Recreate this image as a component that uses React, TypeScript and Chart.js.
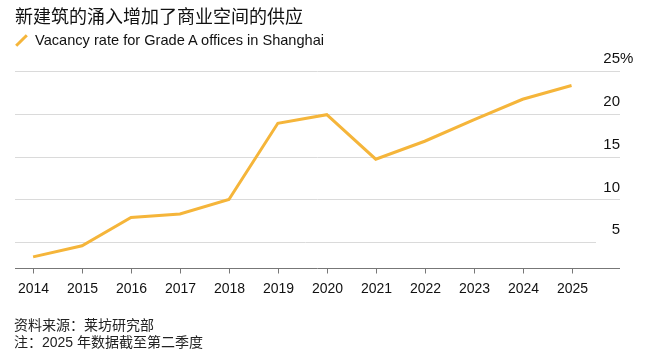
import React, { useEffect, useRef } from "react";
import { Chart, registerables } from "chart.js";

Chart.register(...registerables);

const title = "新建筑的涌入增加了商业空间的供应";
const seriesLabel = "Vacancy rate for Grade A offices in Shanghai";
const years = ["2014", "2015", "2016", "2017", "2018", "2019", "2020", "2021", "2022", "2023", "2024", "2025"];
const vacancy = [3.3, 4.6, 7.9, 8.3, 10.0, 18.9, 19.9, 14.7, 16.8, 19.3, 21.7, 23.3];
const yTicks = [5, 10, 15, 20, 25];
const yMin = 2;
const yMax = 25;
const sourceNote = "资料来源：莱坊研究部";
const footNote = "注：2025 年数据截至第二季度";

const LINE_COLOR = "#F5B53A";
const FONT = '"Liberation Sans", Arial, "Noto Sans CJK SC", sans-serif';

export default function App() {
  const ref = useRef<HTMLCanvasElement | null>(null);

  useEffect(() => {
    if (!ref.current) return;
    const xs = years.map((y) => parseInt(y, 10));
    const axisPlugin = {
      id: "customAxes",
      beforeDatasetsDraw(chart: any) {
        const { ctx, chartArea, scales } = chart;
        const x = scales.x;
        const y = scales.y;
        ctx.save();
        ctx.strokeStyle = "#dadada";
        ctx.lineWidth = 1;
        yTicks.forEach((v, i) => {
          const py = Math.round(y.getPixelForValue(v)) + 0.5;
          const right = i === 0 ? x.getPixelForValue(xs[xs.length - 1] + 0.5) : chartArea.right;
          ctx.beginPath();
          ctx.moveTo(chartArea.left, py);
          ctx.lineTo(right, py);
          ctx.stroke();
        });
        ctx.restore();
      },
      afterDatasetsDraw(chart: any) {
        const { ctx, chartArea, scales } = chart;
        const x = scales.x;
        const y = scales.y;
        ctx.save();
        const ay = Math.round(y.getPixelForValue(yMin)) + 0.5;
        ctx.strokeStyle = "#777";
        ctx.lineWidth = 1;
        ctx.beginPath();
        ctx.moveTo(chartArea.left, ay);
        ctx.lineTo(chartArea.right, ay);
        ctx.stroke();
        ctx.fillStyle = "#111";
        ctx.font = `14px ${FONT}`;
        ctx.textAlign = "center";
        ctx.textBaseline = "middle";
        xs.forEach((v, i) => {
          const px = Math.round(x.getPixelForValue(v)) + 0.5;
          ctx.beginPath();
          ctx.moveTo(px, ay);
          ctx.lineTo(px, ay + 5);
          ctx.stroke();
          ctx.fillText(years[i], px, ay + 21);
        });
        ctx.font = `15px ${FONT}`;
        ctx.textBaseline = "middle";
        yTicks.forEach((v, i) => {
          const py = y.getPixelForValue(v) - 12;
          ctx.textAlign = "right";
          ctx.fillText(String(v), chartArea.right, py);
          if (i === yTicks.length - 1) {
            ctx.textAlign = "left";
            ctx.fillText("%", chartArea.right, py);
          }
        });
        ctx.restore();
      },
    };

    const chart = new Chart(ref.current, {
      type: "line",
      data: {
        datasets: [
          {
            label: seriesLabel,
            data: xs.map((v, i) => ({ x: v, y: vacancy[i] })),
            borderColor: LINE_COLOR,
            backgroundColor: LINE_COLOR,
            borderWidth: 3,
            pointRadius: 0,
            tension: 0,
          },
        ],
      },
      options: {
        responsive: false,
        animation: false,
        layout: { padding: { left: 15, right: 29, top: 71, bottom: 90 } },
        plugins: { legend: { display: false }, tooltip: { enabled: false } },
        scales: {
          x: { type: "linear", min: 2013.63, max: 2025.99, display: false },
          y: { type: "linear", min: yMin, max: yMax, display: false },
        },
      },
      plugins: [axisPlugin],
    });
    return () => chart.destroy();
  }, []);

  return (
    <div style={{ position: "absolute", left: 0, top: 0, width: 649, height: 358, background: "#fff", fontFamily: FONT, color: "#111" }}>
      <canvas ref={ref} width={649} height={358} style={{ position: "absolute", left: 0, top: 0, width: 649, height: 358 }} />
      <div style={{ position: "absolute", left: 15, top: 6, fontSize: 18, lineHeight: "18px", whiteSpace: "nowrap", fontFamily: '"Noto Sans CJK SC", sans-serif' }}>{title}</div>
      <div style={{ position: "absolute", left: 20, top: 32.5, width: 3, height: 15, background: LINE_COLOR, transform: "rotate(45deg)" }} />
      <div style={{ position: "absolute", left: 35, top: 32, fontSize: 14.6, lineHeight: "16px", whiteSpace: "nowrap" }}>{seriesLabel}</div>
      <div style={{ position: "absolute", left: 14, top: 316.5, fontSize: 14, lineHeight: "17px", whiteSpace: "nowrap", color: "#222" }}>
        <div>{sourceNote}</div>
        <div>{footNote}</div>
      </div>
    </div>
  );
}
